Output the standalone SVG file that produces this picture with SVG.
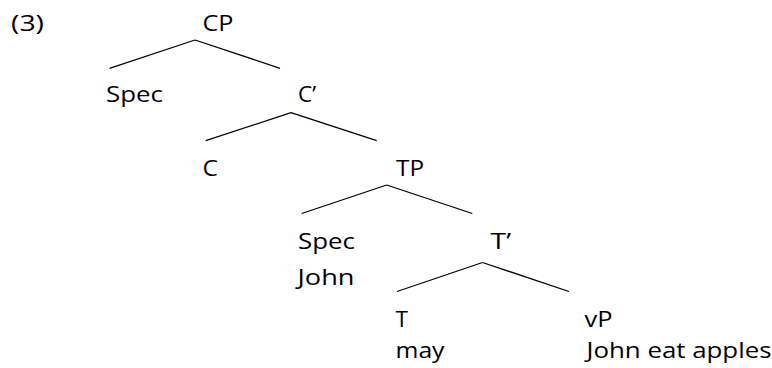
<svg xmlns="http://www.w3.org/2000/svg" width="772" height="368" viewBox="0 0 772 368">
<style>
  text { font-family: "Open Sans", "Noto Sans", "Liberation Sans", sans-serif; font-size: 22px; fill: #000; }
  .edge { stroke: #000; stroke-width: 1.3; fill: none; stroke-linecap: butt; }
</style>
<rect x="0" y="0" width="772" height="368" fill="#fff"/>
<g id="connectors">
  <line class="edge" x1="195" y1="40" x2="109.5" y2="68.3"/>
  <line class="edge" x1="195" y1="40" x2="280" y2="68.3"/>
  <line class="edge" x1="291" y1="112.7" x2="205.7" y2="140.7"/>
  <line class="edge" x1="291" y1="112.7" x2="376.7" y2="140.7"/>
  <line class="edge" x1="386.7" y1="185" x2="301.7" y2="213.5"/>
  <line class="edge" x1="386.7" y1="185" x2="472.3" y2="213.5"/>
  <line class="edge" x1="482.5" y1="262.5" x2="397" y2="291.5"/>
  <line class="edge" x1="482.5" y1="262.5" x2="569" y2="291.5"/>
</g>
<g id="label-3"><text x="11" y="31" textLength="33" lengthAdjust="spacingAndGlyphs">(3)</text></g>
<g id="node-CP"><text x="202.5" y="31" textLength="31" lengthAdjust="spacingAndGlyphs">CP</text></g>
<g id="node-Spec1"><text x="106" y="102" textLength="57" lengthAdjust="spacingAndGlyphs">Spec</text></g>
<g id="node-Cbar"><text x="298" y="102" textLength="18" lengthAdjust="spacingAndGlyphs">C’</text></g>
<g id="node-C"><text x="202.5" y="175.7" textLength="15.5" lengthAdjust="spacingAndGlyphs">C</text></g>
<g id="node-TP"><text x="396" y="175.7" textLength="28" lengthAdjust="spacingAndGlyphs">TP</text></g>
<g id="node-Spec2"><text x="298" y="249.3" textLength="57" lengthAdjust="spacingAndGlyphs">Spec</text><text x="297.5" y="285" textLength="57" lengthAdjust="spacingAndGlyphs">John</text></g>
<g id="node-Tbar"><text x="490.5" y="249.3" textLength="20.5" lengthAdjust="spacingAndGlyphs">T’</text></g>
<g id="node-T"><text x="395.5" y="326.5" textLength="12.5" lengthAdjust="spacingAndGlyphs">T</text><text x="395.5" y="358" textLength="49" lengthAdjust="spacingAndGlyphs">may</text></g>
<g id="node-vP"><text x="584.5" y="326.5" textLength="28" lengthAdjust="spacingAndGlyphs">vP</text><text x="586.5" y="358" textLength="185" lengthAdjust="spacingAndGlyphs">John eat apples</text></g>
</svg>
